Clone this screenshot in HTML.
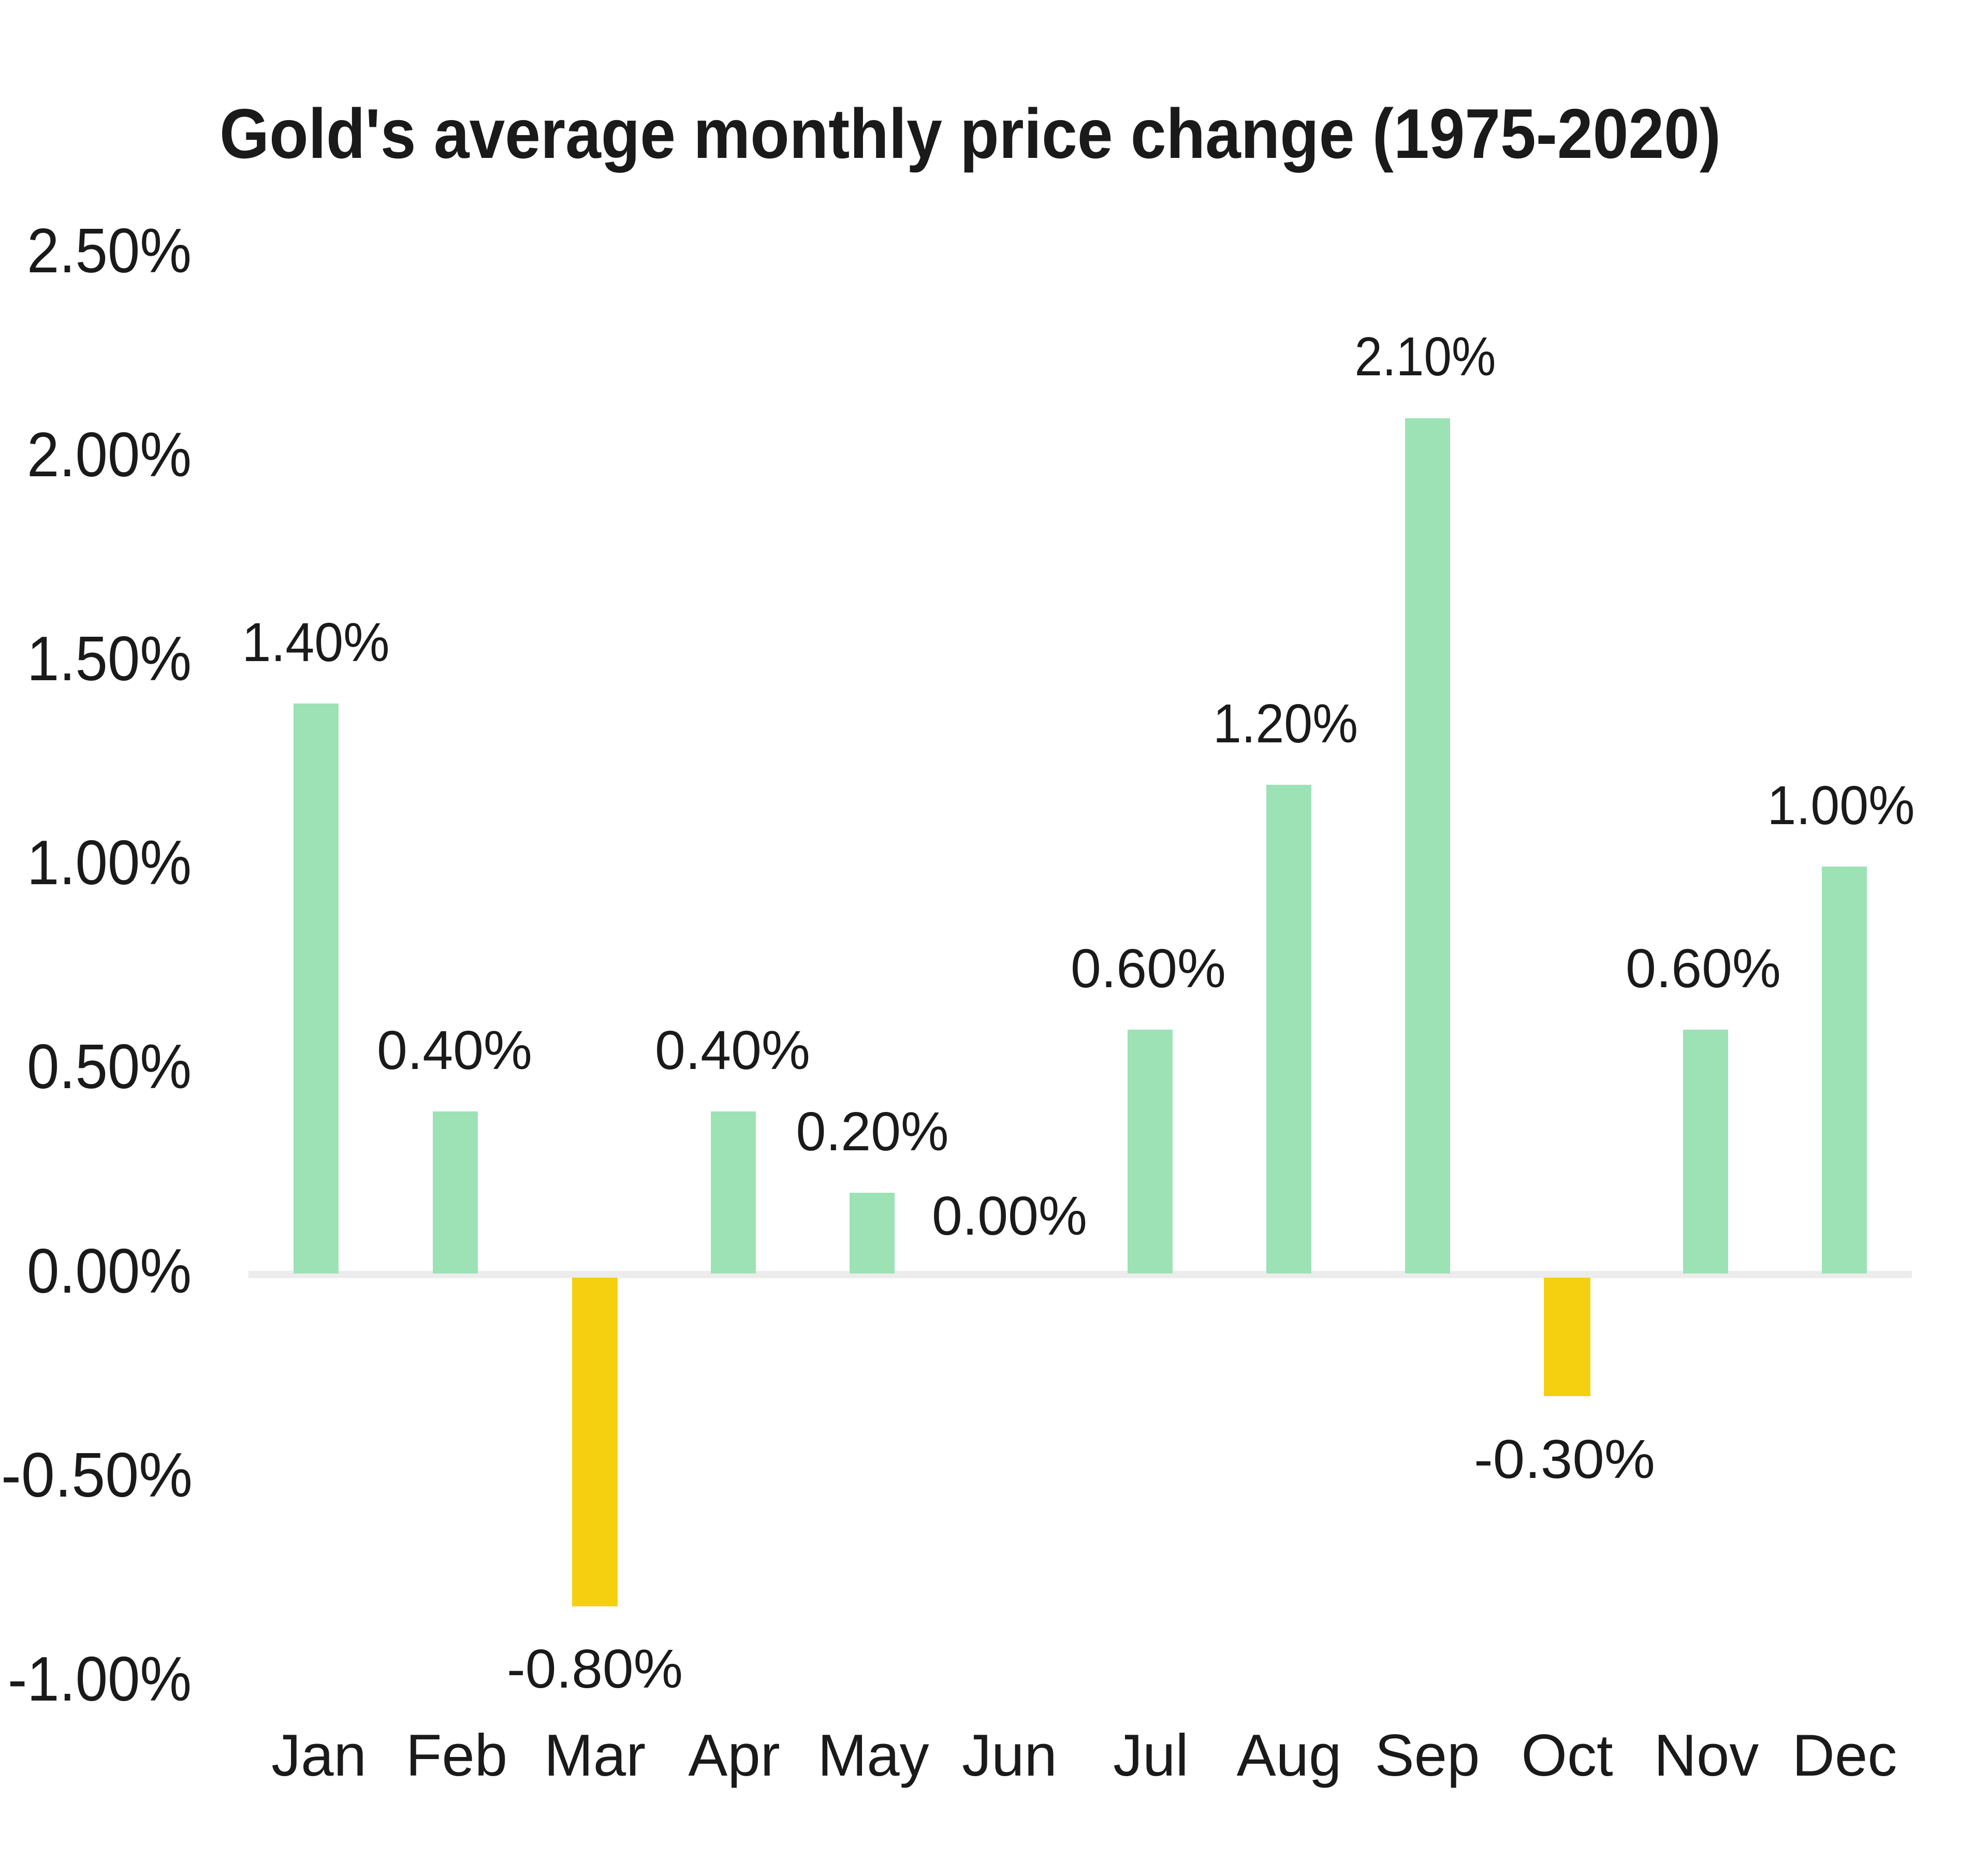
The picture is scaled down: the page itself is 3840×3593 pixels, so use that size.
<!DOCTYPE html>
<html><head><meta charset="utf-8"><style>
html,body{margin:0;padding:0;background:#fff;}
svg{display:block;}
text{font-family:"Liberation Sans",sans-serif;fill:#1a1a1a;}
</style></head><body>
<svg width="3840" height="3593" viewBox="0 0 3840 3593" xmlns="http://www.w3.org/2000/svg">
<rect width="3840" height="3593" fill="#fff"/>
<text x="424" y="305" font-size="136" font-weight="bold" textLength="2900" lengthAdjust="spacingAndGlyphs">Gold's average monthly price change (1975-2020)</text>
<g font-size="122" text-anchor="end">
<text x="370" y="526" textLength="318" lengthAdjust="spacingAndGlyphs">2.50%</text>
<text x="370" y="920" textLength="318" lengthAdjust="spacingAndGlyphs">2.00%</text>
<text x="370" y="1314" textLength="318" lengthAdjust="spacingAndGlyphs">1.50%</text>
<text x="370" y="1708" textLength="318" lengthAdjust="spacingAndGlyphs">1.00%</text>
<text x="370" y="2102" textLength="318" lengthAdjust="spacingAndGlyphs">0.50%</text>
<text x="370" y="2497" textLength="318" lengthAdjust="spacingAndGlyphs">0.00%</text>
<text x="372" y="2891" textLength="370" lengthAdjust="spacingAndGlyphs">-0.50%</text>
<text x="370" y="3285" textLength="355" lengthAdjust="spacingAndGlyphs">-1.00%</text>
</g>
<rect x="480" y="2455" width="3213" height="14" fill="#ececec"/>
<g fill="#9ce2b5">
<rect x="567" y="1359" width="87" height="1101"/>
<rect x="836" y="2147" width="87" height="313"/>
<rect x="1373" y="2147" width="87" height="313"/>
<rect x="1641" y="2304" width="87" height="156"/>
<rect x="2178" y="1989" width="87" height="471"/>
<rect x="2446" y="1516" width="87" height="944"/>
<rect x="2714" y="808" width="87" height="1652"/>
<rect x="3251" y="1989" width="87" height="471"/>
<rect x="3519" y="1674" width="87" height="786"/>
</g>
<g fill="#f5d010">
<rect x="1105" y="2468" width="88" height="635"/>
<rect x="2982" y="2468" width="90" height="229"/>
</g>
<g font-size="106" text-anchor="middle">
<text x="610" y="1277" textLength="285" lengthAdjust="spacingAndGlyphs">1.40%</text>
<text x="878" y="2065" textLength="300" lengthAdjust="spacingAndGlyphs">0.40%</text>
<text x="1149" y="3260" textLength="340" lengthAdjust="spacingAndGlyphs">-0.80%</text>
<text x="1415" y="2065" textLength="300" lengthAdjust="spacingAndGlyphs">0.40%</text>
<text x="1685" y="2222" textLength="295" lengthAdjust="spacingAndGlyphs">0.20%</text>
<text x="1950" y="2385" textLength="300" lengthAdjust="spacingAndGlyphs">0.00%</text>
<text x="2218" y="1907" textLength="300" lengthAdjust="spacingAndGlyphs">0.60%</text>
<text x="2483" y="1434" textLength="280" lengthAdjust="spacingAndGlyphs">1.20%</text>
<text x="2753" y="725" textLength="273" lengthAdjust="spacingAndGlyphs">2.10%</text>
<text x="3022" y="2855" textLength="350" lengthAdjust="spacingAndGlyphs">-0.30%</text>
<text x="3290" y="1907" textLength="300" lengthAdjust="spacingAndGlyphs">0.60%</text>
<text x="3556" y="1592" textLength="285" lengthAdjust="spacingAndGlyphs">1.00%</text>
</g>
<g font-size="114" text-anchor="middle">
<text x="616" y="3430">Jan</text>
<text x="882" y="3430">Feb</text>
<text x="1149" y="3430">Mar</text>
<text x="1418" y="3430">Apr</text>
<text x="1687" y="3430">May</text>
<text x="1950" y="3430">Jun</text>
<text x="2223" y="3430">Jul</text>
<text x="2490" y="3430">Aug</text>
<text x="2757" y="3430">Sep</text>
<text x="3027" y="3430">Oct</text>
<text x="3296" y="3430">Nov</text>
<text x="3563" y="3430">Dec</text>
</g>
</svg>
</body></html>
